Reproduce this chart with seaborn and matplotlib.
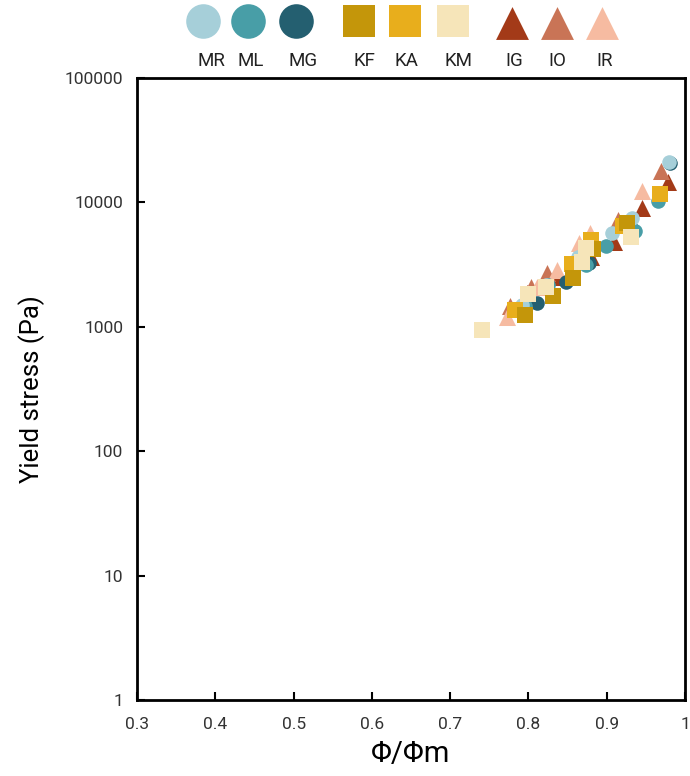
import matplotlib
matplotlib.use("Agg")
import matplotlib.pyplot as plt
import matplotlib.ticker as mticker
import seaborn as sns
import pandas as pd

# ---- data ----
mr_x = [0.792, 0.823, 0.863, 0.907, 0.932, 0.979]
mr_y = [1500, 2170, 3620, 5640, 7500, 21100]
ml_x = [0.795, 0.825, 0.874, 0.899, 0.936, 0.965]
ml_y = [1480, 2150, 3140, 4490, 5890, 10300]
mg_x = [0.811, 0.848, 0.878, 0.934, 0.981]
mg_y = [1560, 2300, 3250, 6000, 20800]
kf_x = [0.795, 0.832, 0.857, 0.883, 0.926]
kf_y = [1250, 1780, 2480, 4250, 6870]
ka_x = [0.783, 0.856, 0.880, 0.921, 0.968]
ka_y = [1360, 3180, 4980, 6460, 11750]
km_x = [0.741, 0.800, 0.822, 0.869, 0.874, 0.931]
km_y = [940, 1830, 2080, 3340, 4280, 5300]
ig_x = [0.798, 0.837, 0.880, 0.909, 0.945, 0.978]
ig_y = [1860, 2530, 3660, 4830, 8960, 14700]
io_x = [0.777, 0.803, 0.824, 0.914, 0.969]
io_y = [1470, 2100, 2720, 7220, 18000]
ir_x = [0.773, 0.811, 0.837, 0.865, 0.879, 0.945]
ir_y = [1200, 2100, 2860, 4740, 5640, 12400]

labels = ["MR", "ML", "MG", "KF", "KA", "KM", "IG", "IO", "IR"]
x_ticks = [0.3, 0.4, 0.5, 0.6, 0.7, 0.8, 0.9, 1.0]
x_tick_labels = ["0.3", "0.4", "0.5", "0.6", "0.7", "0.8", "0.9", "1"]
y_ticks = [1, 10, 100, 1000, 10000, 100000]
y_tick_labels = ["1", "10", "100", "1000", "10000", "100000"]

series = {
    "MR": (mr_x, mr_y), "ML": (ml_x, ml_y), "MG": (mg_x, mg_y),
    "KF": (kf_x, kf_y), "KA": (ka_x, ka_y), "KM": (km_x, km_y),
    "IG": (ig_x, ig_y), "IO": (io_x, io_y), "IR": (ir_x, ir_y),
}
colors = {"MR": "#a6cfd9", "ML": "#489ea7", "MG": "#245f70",
          "KF": "#c4960a", "KA": "#e8ae1c", "KM": "#f6e5b9",
          "IG": "#a33a18", "IO": "#c97456", "IR": "#f6bba1"}
markers = {"MR": "o", "ML": "o", "MG": "o", "KF": "s", "KA": "s", "KM": "s",
           "IG": "^", "IO": "^", "IR": "^"}
sizes = {"o": 110, "s": 120, "^": 150}

sns.set_theme(style="white")
plt.rcParams["font.family"] = ["Roboto", "DejaVu Sans"]

fig = plt.figure(figsize=(6.9, 7.76), dpi=100)
ax = fig.add_axes([137/690, 1-700/776, (685-137)/690, (700-78)/776])

draw_order = ["IG", "IO", "IR", "MG", "ML", "MR", "KA", "KF", "KM"]
for name in draw_order:
    xs, ys = series[name]
    df = pd.DataFrame({"x": xs, "y": ys})
    sns.scatterplot(data=df, x="x", y="y", ax=ax, marker=markers[name],
                    color=colors[name], s=sizes[markers[name]],
                    linewidth=0, legend=False, zorder=3)

ax.set_yscale("log")
ax.set_xlim(0.3, 1.0)
ax.set_ylim(1, 100000)
ax.set_xticks(x_ticks)
ax.set_xticklabels(x_tick_labels)
ax.yaxis.set_major_locator(mticker.FixedLocator(y_ticks))
ax.yaxis.set_major_formatter(mticker.FixedFormatter(y_tick_labels))
ax.yaxis.set_minor_locator(mticker.NullLocator())
ax.tick_params(axis="both", which="major", direction="in", length=6, width=1.5,
               labelsize=12.5, labelcolor="#333333", color="black",
               bottom=True, left=True, top=False, right=False)
ax.tick_params(axis="x", pad=12)
ax.tick_params(axis="y", pad=10)
for sp in ax.spines.values():
    sp.set_visible(True)
    sp.set_color("black")
    sp.set_linewidth(2)

ax.set_xlabel("Φ/Φm", fontsize=21, color="black", labelpad=6)
ax.set_ylabel("Yield stress (Pa)", fontsize=18.5, color="black", labelpad=14)

# ---- legend row at the top (markers above labels) ----
lax = fig.add_axes([0, 1-78/776, 1, 78/776])
lax.set_xlim(0, 690)
lax.set_ylim(78, 0)
lax.axis("off")
leg_marker_x = [203, 248, 296, 359, 405, 453, 512, 557, 602]
leg_label_x = [211, 251, 303, 364, 406, 458, 514, 557, 605]
leg_size = {"o": 620, "s": 560, "^": 560}
for name, mx, tx in zip(labels, leg_marker_x, leg_label_x):
    m = markers[name]
    my = 21 if m != "^" else 23
    lax.scatter([mx], [my], marker=m, s=leg_size[m], color=colors[name],
                linewidths=0, clip_on=False)
    lax.text(tx, 61, name, ha="center", va="center", fontsize=13.5,
             color="#222222")

fig.savefig("out.png", dpi=100)
